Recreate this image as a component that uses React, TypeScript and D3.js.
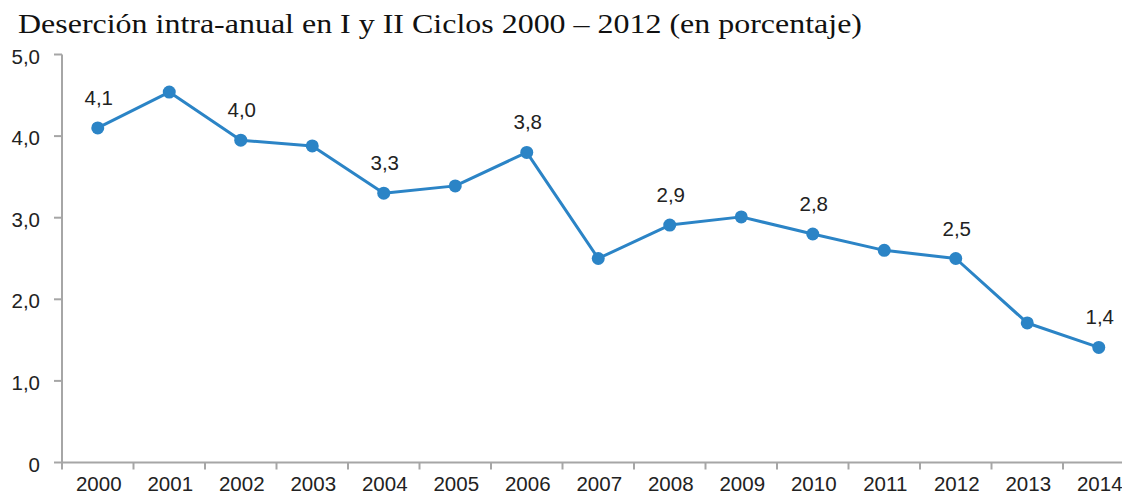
import React from "react";
import * as d3 from "d3";

const years = ["2000","2001","2002","2003","2004","2005","2006","2007","2008","2009","2010","2011","2012","2013","2014"];
const values = [4.1, 4.54, 3.95, 3.88, 3.3, 3.39, 3.8, 2.5, 2.91, 3.01, 2.8, 2.6, 2.5, 1.71, 1.41];
const valueLabels = ["4,1", "", "4,0", "", "3,3", "", "3,8", "", "2,9", "", "2,8", "", "2,5", "", "1,4"];
const yTicks = [0, 1, 2, 3, 4, 5];
const yTickLabels = ["0", "1,0", "2,0", "3,0", "4,0", "5,0"];
const title = "Deserción intra-anual en I y II Ciclos 2000 – 2012 (en porcentaje)";

export default function App() {
  const W = 1122, H = 497;
  const left = 62, bottom = 462.5, top = 54.5;
  const x = d3.scaleBand<string>().domain(years).range([left, left + 15 * 71.5]);
  const y = d3.scaleLinear().domain([0, 5]).range([bottom, top]);
  const cx = (d: string) => (x(d) as number) + x.bandwidth() / 2;
  const line = d3.line<number>().x((_, i) => cx(years[i])).y((v) => y(v));
  const axisColor = "#a6a6a6";
  const blue = "#2b84c6";
  const sans = "Liberation Sans, Arial, sans-serif";
  const fs = 20.5;
  return (
    <svg width={W} height={H} style={{ position: "absolute", left: 0, top: 0, background: "#fff" }}>
      <text x={18} y={33} fontFamily="Liberation Serif, Times New Roman, serif" fontSize={27.5} fill="#111" textLength={844} lengthAdjust="spacingAndGlyphs">{title}</text>
      {/* y axis */}
      <line x1={left} x2={left} y1={top} y2={bottom} stroke={axisColor} strokeWidth={2} />
      {yTicks.map((t, i) => (
        <g key={t}>
          <line x1={left - 8} x2={left} y1={y(t)} y2={y(t)} stroke={axisColor} strokeWidth={2} />
          <text x={40} y={y(t) + 2} dy="0.35em" textAnchor="end" fontFamily={sans} fontSize={fs} fill="#222">{yTickLabels[i]}</text>
        </g>
      ))}
      {/* x axis */}
      <line x1={left} x2={W} y1={bottom} y2={bottom} stroke={axisColor} strokeWidth={2} />
      {years.map((yr) => (
        <line key={"t" + yr} x1={x(yr) as number} x2={x(yr) as number} y1={bottom} y2={bottom + 7} stroke={axisColor} strokeWidth={2} />
      ))}
      {years.map((yr) => (
        <text key={"l" + yr} x={cx(yr) + 1} y={491} textAnchor="middle" fontFamily={sans} fontSize={fs} fill="#222">{yr}</text>
      ))}
      <path d={line(values) || ""} fill="none" stroke={blue} strokeWidth={3} strokeLinejoin="round" />
      {values.map((v, i) => (
        <circle key={"c" + i} cx={cx(years[i])} cy={y(v)} r={6.5} fill={blue} />
      ))}
      {values.map((v, i) => valueLabels[i] ? (
        <text key={"v" + i} x={cx(years[i]) + 1} y={y(v) - 23} textAnchor="middle" fontFamily={sans} fontSize={fs} fill="#222">{valueLabels[i]}</text>
      ) : null)}
    </svg>
  );
}
